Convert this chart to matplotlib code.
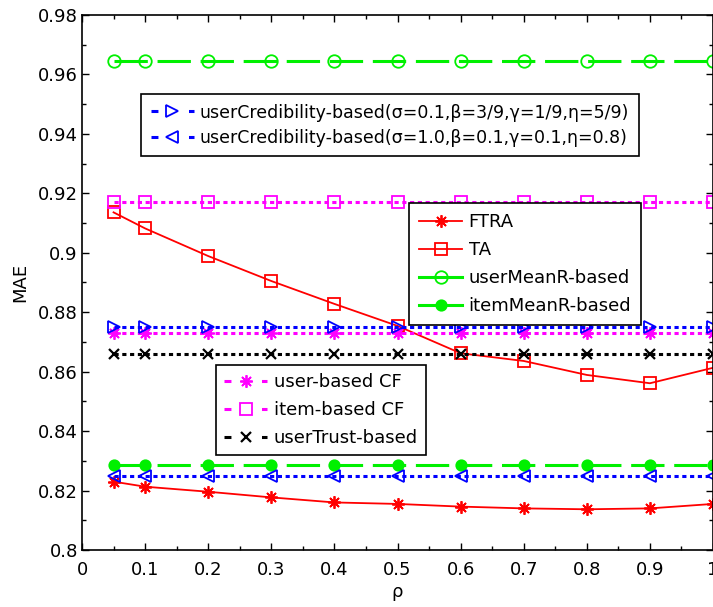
import matplotlib
matplotlib.use("Agg")
import matplotlib.pyplot as plt
from matplotlib.lines import Line2D
from matplotlib.ticker import MultipleLocator

plt.rcParams['font.family'] = ['DejaVu Sans']
plt.rcParams['lines.scale_dashes'] = False

rho = [0.05, 0.1, 0.2, 0.3, 0.4, 0.5, 0.6, 0.7, 0.8, 0.9, 1.0]
ftra = [0.8230, 0.8213, 0.8196, 0.8177, 0.8160, 0.8155, 0.8146, 0.8140, 0.8137, 0.8140, 0.8155]
ta = [0.9136, 0.9082, 0.8989, 0.8905, 0.8828, 0.8754, 0.8662, 0.8636, 0.8589, 0.8561, 0.8613]
user_mean = [0.9645] * 11
item_mean = [0.8286] * 11
user_cf = [0.8731] * 11
item_cf = [0.9172] * 11
user_trust = [0.8658] * 11
user_cred1 = [0.8749] * 11
user_cred2 = [0.8249] * 11

lab_ftra = 'FTRA'
lab_ta = 'TA'
lab_um = 'userMeanR-based'
lab_im = 'itemMeanR-based'
lab_ucf = 'user-based CF'
lab_icf = 'item-based CF'
lab_ut = 'userTrust-based'
lab_uc1 = 'userCredibility-based(σ=0.1,β=3/9,γ=1/9,η=5/9)'
lab_uc2 = 'userCredibility-based(σ=1.0,β=0.1,γ=0.1,η=0.8)'

W, H = 713, 607
fig = plt.figure(figsize=(W / 100, H / 100), dpi=100)
ax = fig.add_axes([82 / W, 1 - 550 / H, (713 - 82) / W, (550 - 15) / H])

star = (8, 2, 0)
dash_g = (24, 7)
dot = (3, 2.6)
mew = 1.3
green = '#00f000'

styles = {
    'ftra': dict(color='red', lw=1.3, ls='-', marker=star, ms=9, mew=1.3, mfc='none'),
    'ta': dict(color='red', lw=1.3, ls='-', marker='s', ms=8, mew=mew, mfc='none'),
    'um': dict(color=green, lw=2.2, dashes=dash_g, marker='o', ms=9, mew=mew, mfc='none'),
    'im': dict(color=green, lw=2.2, dashes=dash_g, marker='o', ms=7.5, mew=mew, mfc=green),
    'ucf': dict(color='magenta', lw=2.2, dashes=dot, marker=star, ms=9, mew=mew, mfc='none'),
    'icf': dict(color='magenta', lw=2.2, dashes=dot, marker='s', ms=8, mew=mew, mfc='none'),
    'ut': dict(color='black', lw=2.2, dashes=dot, marker='x', ms=6.5, mew=1.6, mfc='none'),
    'uc1': dict(color='blue', lw=2.2, dashes=dot, marker='>', ms=9, mew=mew, mfc='none'),
    'uc2': dict(color='blue', lw=2.2, dashes=dot, marker='<', ms=9, mew=mew, mfc='none'),
}

ax.plot(rho, ftra, **styles['ftra'])
ax.plot(rho, ta, **styles['ta'])
ax.plot(rho, user_mean, **styles['um'])
ax.plot(rho, item_mean, **styles['im'])
ax.plot(rho, user_cf, **styles['ucf'])
ax.plot(rho, item_cf, **styles['icf'])
ax.plot(rho, user_trust, **styles['ut'])
ax.plot(rho, user_cred1, **styles['uc1'])
ax.plot(rho, user_cred2, **styles['uc2'])

ax.set_xlim(0, 1)
ax.set_ylim(0.8, 0.98)
ax.xaxis.set_minor_locator(MultipleLocator(0.05))
ax.yaxis.set_minor_locator(MultipleLocator(0.01))
ax.set_xticks([0, 0.1, 0.2, 0.3, 0.4, 0.5, 0.6, 0.7, 0.8, 0.9, 1.0])
ax.set_xticklabels(['0', '0.1', '0.2', '0.3', '0.4', '0.5', '0.6', '0.7', '0.8', '0.9', '1'])
ax.set_yticks([0.8, 0.82, 0.84, 0.86, 0.88, 0.9, 0.92, 0.94, 0.96, 0.98])
ax.set_yticklabels(['0.8', '0.82', '0.84', '0.86', '0.88', '0.9', '0.92', '0.94', '0.96', '0.98'])
ax.tick_params(which='both', direction='in', top=True, right=True, labelsize=13, width=1)
ax.tick_params(which='major', length=5)
ax.tick_params(which='minor', length=3)
ax.tick_params(axis='x', pad=8)
ax.tick_params(axis='y', pad=3)
for s in ax.spines.values():
    s.set_linewidth(1.2)

ax.set_xlabel('ρ', fontsize=13, labelpad=3)
ax.set_ylabel('MAE', fontsize=13, labelpad=6)


def proxy(key, gap_style=None):
    st = dict(styles[key])
    if gap_style == 'short':
        st.pop('dashes', None)
        st['dashes'] = (5, 22)
    elif gap_style == 'solid':
        st.pop('dashes', None)
        st['ls'] = '-'
    return Line2D([], [], **st)


def legkw(fs):
    return dict(frameon=True, fancybox=False, edgecolor='black', framealpha=1,
                fontsize=fs, borderaxespad=0, handlelength=2.4 * 13 / fs,
                handletextpad=0.35, bbox_transform=fig.transFigure, loc='upper left')


l1 = ax.legend([proxy('uc1', 'short'), proxy('uc2', 'short')], [lab_uc1, lab_uc2],
               bbox_to_anchor=(141 / W, 1 - 94 / H), labelspacing=0.42,
               borderpad=0.55, **legkw(12.5))
l1.get_frame().set_linewidth(1.2)
ax.add_artist(l1)

l2 = ax.legend([proxy('ftra'), proxy('ta'), proxy('um', 'solid'), proxy('im', 'solid')],
               [lab_ftra, lab_ta, lab_um, lab_im],
               bbox_to_anchor=(409 / W, 1 - 203 / H), labelspacing=0.56,
               borderpad=0.55, **legkw(13))
l2.get_frame().set_linewidth(1.2)
ax.add_artist(l2)

l3 = ax.legend([proxy('ucf', 'short'), proxy('icf', 'short'), proxy('ut', 'short')],
               [lab_ucf, lab_icf, lab_ut],
               bbox_to_anchor=(216 / W, 1 - 365 / H), labelspacing=0.56,
               borderpad=0.45, **legkw(13))
l3.get_frame().set_linewidth(1.2)

fig.savefig('out.png', dpi=100, facecolor='white')
